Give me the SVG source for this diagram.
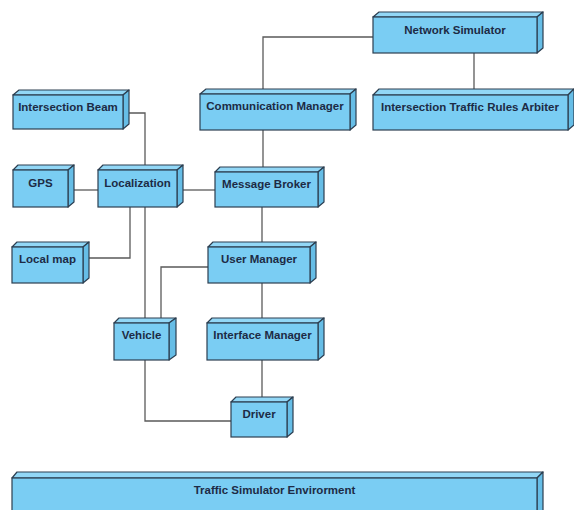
<svg xmlns="http://www.w3.org/2000/svg" width="574" height="510" viewBox="0 0 574 510">
<style>
.front{fill:#7acdf3;stroke:#2c3e50;stroke-width:1.2}
.top{fill:#92d7f6;stroke:#2c3e50;stroke-width:1.2;stroke-linejoin:round}
.side{fill:#66bde6;stroke:#2c3e50;stroke-width:1.2;stroke-linejoin:round}
.lbl{font-family:"Liberation Sans",Arial,sans-serif;font-weight:bold;font-size:11.5px;fill:#1d2b45;text-anchor:middle}
.conn{fill:none;stroke:#5a5a5a;stroke-width:1.3}
</style>
<rect width="574" height="510" fill="#ffffff"/>
<g id="connectors">
<path class="conn" d="M263,89 V37 H373"/>
<path class="conn" d="M474,53 V89"/>
<path class="conn" d="M263,130 V167"/>
<path class="conn" d="M123,113 H145 V165"/>
<path class="conn" d="M68,190 H98"/>
<path class="conn" d="M183,190 H215"/>
<path class="conn" d="M130,207 V258 H89"/>
<path class="conn" d="M145,207 V318"/>
<path class="conn" d="M145,360 V421 H231"/>
<path class="conn" d="M208,267 H161 V318"/>
<path class="conn" d="M262,207 V242"/>
<path class="conn" d="M262,283 V318"/>
<path class="conn" d="M262,360 V397"/>
</g>
<g id="network-simulator">
<polygon class="top" points="373,17 379,12 543,12 537,17"/>
<polygon class="side" points="537,17 543,12 543,48 537,53"/>
<rect class="front" x="373" y="17" width="164" height="36"/>
<text class="lbl" x="455" y="34">Network Simulator</text>
</g>
<g id="intersection-traffic-rules-arbiter">
<polygon class="top" points="373,95 379,89 574,89 568,95"/>
<polygon class="side" points="568,95 574,89 574,125 568,130"/>
<rect class="front" x="373" y="95" width="195" height="35"/>
<text class="lbl" x="470" y="111">Intersection Traffic Rules Arbiter</text>
</g>
<g id="communication-manager">
<polygon class="top" points="200,94 206,89 356,89 350,94"/>
<polygon class="side" points="350,94 356,89 356,125 350,130"/>
<rect class="front" x="200" y="94" width="150" height="36"/>
<text class="lbl" x="275" y="110">Communication Manager</text>
</g>
<g id="intersection-beam">
<polygon class="top" points="13,95 19,90 129,90 123,95"/>
<polygon class="side" points="123,95 129,90 129,124 123,129"/>
<rect class="front" x="13" y="95" width="110" height="34"/>
<text class="lbl" x="68" y="111">Intersection Beam</text>
</g>
<g id="gps">
<polygon class="top" points="13,170 18,165 74,165 68,170"/>
<polygon class="side" points="68,170 74,165 74,202 68,207"/>
<rect class="front" x="13" y="170" width="55" height="37"/>
<text class="lbl" x="40.5" y="187">GPS</text>
</g>
<g id="localization">
<polygon class="top" points="98,170 103,165 183,165 177,170"/>
<polygon class="side" points="177,170 183,165 183,202 177,207"/>
<rect class="front" x="98" y="170" width="79" height="37"/>
<text class="lbl" x="137.5" y="187">Localization</text>
</g>
<g id="message-broker">
<polygon class="top" points="215,172 220,167 324,167 318,172"/>
<polygon class="side" points="318,172 324,167 324,202 318,207"/>
<rect class="front" x="215" y="172" width="103" height="35"/>
<text class="lbl" x="266.5" y="188">Message Broker</text>
</g>
<g id="local-map">
<polygon class="top" points="12,247 17,242 89,242 83,247"/>
<polygon class="side" points="83,247 89,242 89,278 83,283"/>
<rect class="front" x="12" y="247" width="71" height="36"/>
<text class="lbl" x="47.5" y="263">Local map</text>
</g>
<g id="user-manager">
<polygon class="top" points="208,247 213,242 316,242 310,247"/>
<polygon class="side" points="310,247 316,242 316,278 310,283"/>
<rect class="front" x="208" y="247" width="102" height="36"/>
<text class="lbl" x="259" y="263">User Manager</text>
</g>
<g id="vehicle">
<polygon class="top" points="114,323 119,318 176,318 169,323"/>
<polygon class="side" points="169,323 176,318 176,355 169,360"/>
<rect class="front" x="114" y="323" width="55" height="37"/>
<text class="lbl" x="141.5" y="339">Vehicle</text>
</g>
<g id="interface-manager">
<polygon class="top" points="207,323 212,318 324,318 318,323"/>
<polygon class="side" points="318,323 324,318 324,355 318,360"/>
<rect class="front" x="207" y="323" width="111" height="37"/>
<text class="lbl" x="262.5" y="339">Interface Manager</text>
</g>
<g id="driver">
<polygon class="top" points="231,402 236,397 293,397 287,402"/>
<polygon class="side" points="287,402 293,397 293,432 287,437"/>
<rect class="front" x="231" y="402" width="56" height="35"/>
<text class="lbl" x="259" y="418">Driver</text>
</g>
<g id="traffic-simulator-envirorment">
<polygon class="top" points="12,478 17,472 543,472 537,478"/>
<polygon class="side" points="537,478 543,472 543,514 537,520"/>
<rect class="front" x="12" y="478" width="525" height="42"/>
<text class="lbl" x="274.5" y="494">Traffic Simulator Envirorment</text>
</g>
</svg>
